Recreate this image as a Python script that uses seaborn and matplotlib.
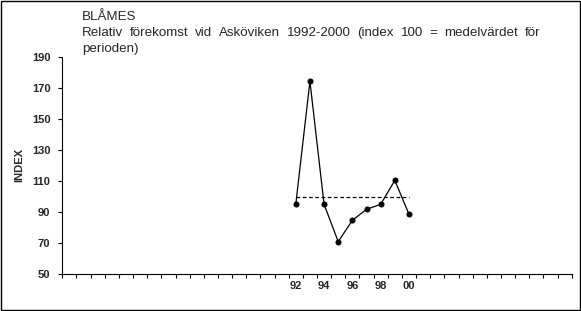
import matplotlib
matplotlib.use("Agg")
import matplotlib.pyplot as plt
import seaborn as sns
import pandas as pd
import numpy as np
from matplotlib.patches import Rectangle

# ---- data ----
first_year, last_year = 1976, 2011                      # category axis span
categories = [f"{y % 100:02d}" for y in range(first_year, last_year + 1)]
years = ["92", "93", "94", "95", "96", "97", "98", "99", "00"]
values = [95.0, 174.5, 95.0, 70.9, 84.7, 91.8, 95.0, 110.5, 88.6]
mean_index = 100
tick_labels = ["92", "94", "96", "98", "00"]
y_ticks = [50, 70, 90, 110, 130, 150, 170, 190]
title = "BLÅMES"
subtitle_line1 = "Relativ förekomst vid Asköviken 1992-2000 (index 100 = medelvärdet för"
subtitle_line2 = "perioden)"
y_label = "INDEX"

# ---- style ----
sns.set_style("white")
plt.rcParams["font.family"] = ["Liberation Sans", "DejaVu Sans"]

W, H = 581, 311
fig = plt.figure(figsize=(W / 100, H / 100), dpi=100)
fig.patch.set_facecolor("white")

left, right = 62.3 / W, 571.7 / W
bottom, top = 1 - 274.0 / H, 1 - 57.3 / H
ax = fig.add_axes([left, bottom, right - left, top - bottom])
ax.set_facecolor("white")

df = pd.DataFrame({"year": years, "index": values})
df["pos"] = df["year"].map(categories.index)

sns.lineplot(data=df, x="pos", y="index", color="black", linewidth=0.9,
             marker="o", markersize=3.6, markeredgecolor="black",
             markerfacecolor="black", ax=ax, legend=False)
ax.hlines(mean_index, df["pos"].min(), df["pos"].max(), colors="black",
          linestyles=(0, (3, 2)), linewidth=0.9)

n = len(categories)
ax.set_xlim(-0.5, n - 0.5)
ax.set_ylim(y_ticks[0], y_ticks[-1])

ax.set_xticks([categories.index(t) for t in tick_labels])
ax.set_xticklabels(tick_labels, fontsize=8, fontweight="bold")
ax.set_xticks(np.arange(-0.5, n, 1.0), minor=True)
ax.tick_params(axis="x", which="major", length=0, pad=5, bottom=True)
ax.tick_params(axis="x", which="minor", length=3, width=0.8, direction="out",
               color="black", bottom=True)

ax.set_yticks(y_ticks)
ax.set_yticklabels([str(v) for v in y_ticks], fontsize=8, fontweight="bold")
ax.tick_params(axis="y", which="major", length=3, width=0.8, direction="out",
               pad=5.5, color="black", left=True)

for s in ["top", "right"]:
    ax.spines[s].set_visible(False)
for s in ["left", "bottom"]:
    ax.spines[s].set_color("black")
    ax.spines[s].set_linewidth(0.8)

ax.set_xlabel("")
ax.set_ylabel("")
fig.text(19.5 / W, 1 - 165 / H, y_label, rotation=90, ha="center", va="center",
         fontsize=8, fontweight="bold")

# ---- titles ----
tsize = 9.6
fig.text(82 / W, 1 - 20.3 / H, title, fontsize=tsize, va="baseline", ha="left")
fig.text(82 / W, 1 - 51.8 / H, subtitle_line2, fontsize=tsize, va="baseline", ha="left")

# justified line
words = subtitle_line1.split(" ")
objs = [fig.text(0, 1 - 36.0 / H, w, fontsize=tsize, va="baseline", ha="left") for w in words]
fig.canvas.draw()
renderer = fig.canvas.get_renderer()
widths = [o.get_window_extent(renderer).width for o in objs]
x0, x1 = 82.0, 540.0
gap = (x1 - x0 - sum(widths)) / (len(words) - 1)
x = x0
for o, w in zip(objs, widths):
    o.set_x(x / W)
    x += w + gap

# chart border
fig.patches.append(Rectangle((0.6 / W, 0.6 / H), 1 - 1.6 / W, 1 - 1.6 / H,
                             transform=fig.transFigure, fill=False,
                             edgecolor="black", linewidth=1.0))

fig.savefig("out.png", dpi=100, facecolor="white")
